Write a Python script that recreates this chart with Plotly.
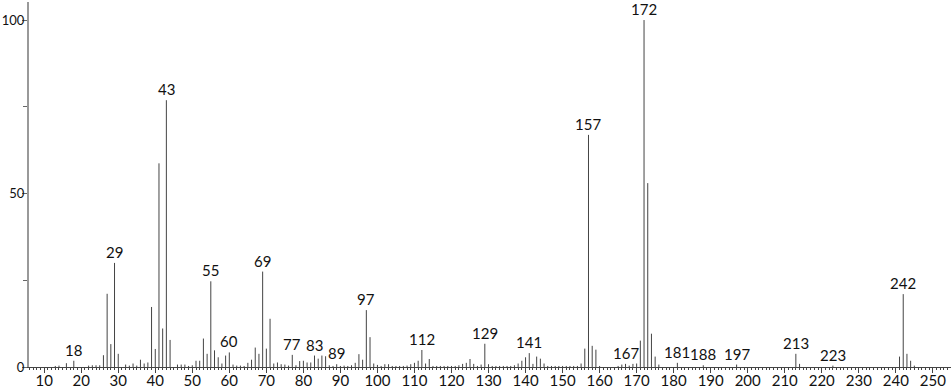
import plotly.graph_objects as go

# m/z values and relative intensities (%)
mz = [13, 14, 16, 18, 22, 23, 24, 25, 26, 27, 28, 29, 30, 32, 33, 34, 35, 36, 37, 38,
      39, 40, 41, 42, 43, 44, 46, 47, 48, 49, 50, 51, 52, 53, 54, 55, 56, 57, 58, 59,
      60, 61, 62, 63, 64, 65, 66, 67, 68, 69, 70, 71, 72, 73, 74, 75, 76, 77, 78, 79,
      80, 81, 82, 83, 84, 85, 86, 87, 88, 89, 90, 91, 92, 93, 94, 95, 96, 97, 98, 99,
      100, 101, 102, 103, 104, 105, 106, 107, 108, 109, 110, 111, 112, 113, 114, 115,
      116, 117, 118, 119, 120, 121, 122, 123, 124, 125, 126, 127, 128, 129, 130, 131,
      132, 133, 134, 135, 136, 137, 138, 139, 140, 141, 142, 143, 144, 145, 146, 147,
      148, 149, 150, 151, 152, 153, 154, 155, 156, 157, 158, 159, 160, 165, 166, 167,
      168, 169, 170, 171, 172, 173, 174, 175, 176, 181, 188, 197, 213, 214, 223, 241,
      242, 243, 244, 245]
intensity = [0.3, 0.4, 1.1, 1.8, 0.4, 0.5, 0.5, 0.5, 3.4, 21.1, 6.6, 30.0, 3.8, 0.7, 0.4, 1.0, 0.4, 2.1, 1.0, 1.3,
             17.3, 5.2, 58.7, 11.1, 76.9, 7.8, 0.7, 0.7, 0.7, 0.3, 0.5, 1.8, 1.8, 8.2, 3.8, 24.7, 4.8, 2.8, 1.0, 3.3,
             4.2, 0.7, 0.4, 0.4, 0.3, 1.2, 2.1, 5.6, 3.8, 27.5, 5.3, 13.9, 1.0, 1.3, 0.8, 0.7, 0.4, 3.5, 0.5, 1.7,
             1.8, 1.3, 1.3, 3.3, 2.4, 3.3, 3.1, 0.5, 0.3, 0.8, 0.3, 0.4, 0.3, 0.5, 1.2, 3.7, 2.1, 16.4, 8.6, 1.0,
             0.6, 0.3, 0.8, 0.8, 0.3, 0.3, 0.3, 0.3, 0.4, 0.8, 1.2, 1.8, 4.9, 1.0, 2.3, 0.3,
             0.3, 0.3, 0.3, 0.3, 0.3, 0.3, 0.5, 0.9, 1.2, 2.3, 0.9, 0.3, 0.7, 6.7, 0.8, 0.3,
             0.3, 0.3, 0.3, 0.3, 0.3, 0.5, 1.0, 1.8, 2.8, 4.0, 0.9, 3.0, 2.4, 1.0, 0.3, 0.3,
             0.3, 0.3, 0.3, 0.3, 0.3, 0.3, 0.3, 1.0, 5.3, 66.9, 6.1, 5.0, 0.3, 0.3, 0.7, 0.9,
             0.4, 0.9, 1.0, 7.6, 100.0, 53.0, 9.6, 3.0, 0.7, 1.2, 0.5, 0.7, 3.8, 0.9, 0.4, 3.0,
             21.0, 3.8, 1.8, 0.4]

# peaks that carry an m/z label
labelled_mz = [18, 29, 43, 55, 60, 69, 77, 83, 89, 97, 112, 129, 141, 157, 167, 172,
               181, 188, 197, 213, 223, 242]

x_tick_vals = list(range(10, 260, 10))
y_tick_vals = [0, 50, 100]

FONT = "Lato, 'DejaVu Sans', sans-serif"

# stick spectrum: one vertical segment per peak
xs, ys = [], []
for m, v in zip(mz, intensity):
    xs += [m, m, None]
    ys += [0, v, None]

fig = go.Figure()
fig.add_trace(go.Scatter(x=xs, y=ys, mode="lines",
                         line=dict(color="#444444", width=1),
                         hoverinfo="skip", showlegend=False))

lookup = dict(zip(mz, intensity))
for m in labelled_mz:
    fig.add_annotation(x=m, y=lookup[m], text=str(m), showarrow=False,
                       xanchor="center", yanchor="bottom", yshift=0,
                       font=dict(family=FONT, size=15, color="#111111"))

fig.update_layout(
    width=951, height=389,
    margin=dict(l=29, r=0, t=2, b=22),
    paper_bgcolor="white", plot_bgcolor="white",
    font=dict(family=FONT, size=15, color="#111111"),
    showlegend=False,
    xaxis=dict(range=[5.9, 254.9], tickvals=x_tick_vals, ticks="outside",
               ticklen=5, tickcolor="#444444", tickwidth=1,
               ticklabelstandoff=-5,
               showline=True, linecolor="#444444", linewidth=1,
               showgrid=False, zeroline=False, automargin=False,
               minor=dict(dtick=1, tick0=0, ticks="outside", ticklen=2,
                          tickcolor="#444444", tickwidth=1, showgrid=False),
               tickfont=dict(family=FONT, size=15, color="#111111")),
    yaxis=dict(range=[0, 105.2], tickvals=y_tick_vals, ticks="outside",
               ticklen=5, tickcolor="#666666", tickwidth=1,
               ticklabelstandoff=-5,
               showline=True, linecolor="#999999", linewidth=2,
               showgrid=False, zeroline=False, automargin=False,
               minor=dict(tickvals=[25, 75], ticks="outside", ticklen=4,
                          tickcolor="#666666", showgrid=False),
               tickfont=dict(family=FONT, size=13, color="#111111")),
)

fig.write_html("out.html")
